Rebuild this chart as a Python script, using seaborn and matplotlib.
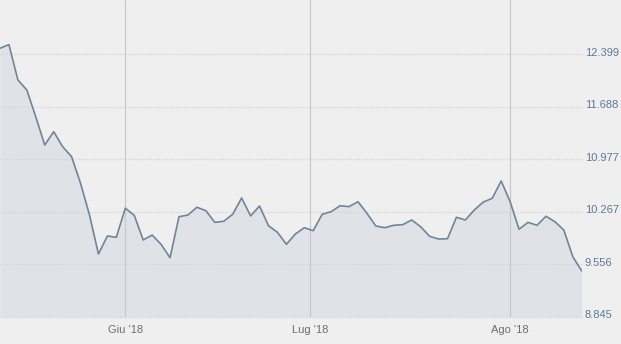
import matplotlib
matplotlib.use("Agg")
import matplotlib.pyplot as plt
import matplotlib.transforms as mtransforms
import seaborn as sns
import pandas as pd
import numpy as np

# ---- data ----
dates = pd.bdate_range("2018-05-14", "2018-08-13")
values = [12.480, 12.530, 12.051, 11.915, 11.550, 11.170, 11.350, 11.147, 11.012, 10.652,
          10.222, 9.694, 9.938, 9.920, 10.315, 10.218, 9.884, 9.951, 9.825, 9.644,
          10.199, 10.222, 10.327, 10.281, 10.123, 10.137, 10.232, 10.453, 10.209, 10.344,
          10.077, 9.988, 9.825, 9.965, 10.050, 10.010, 10.232, 10.267, 10.348, 10.335,
          10.402, 10.245, 10.073, 10.050, 10.083, 10.091, 10.155, 10.064, 9.934, 9.897,
          9.901, 10.191, 10.155, 10.290, 10.398, 10.448, 10.683, 10.402, 10.029, 10.123,
          10.083, 10.205, 10.132, 10.019, 9.658, 9.464]
ytick_values = [8.845, 9.556, 10.267, 10.977, 11.688, 12.399]
ytick_labels = ["8.845", "9.556", "10.267", "10.977", "11.688", "12.399"]
month_starts = ["2018-06-01", "2018-07-01", "2018-08-01"]
month_labels = ["Giu '18", "Lug '18", "Ago '18"]

df = pd.DataFrame({"date": dates[:len(values)], "value": values})
df["idx"] = np.arange(len(df))

# ordinal axis: month ticks placed at the interpolated position of the 1st day
date_num = df["date"].map(pd.Timestamp.toordinal).to_numpy()
xticks = [float(np.interp(pd.Timestamp(d).toordinal(), date_num, df["idx"])) for d in month_starts]

bg = "#efefef"
sns.set_theme(style="white")
plt.rcParams["font.family"] = ["Liberation Sans", "DejaVu Sans"]

fig = plt.figure(figsize=(6.21, 3.44), dpi=100, facecolor=bg)
ax = fig.add_axes([0, 27.3 / 344, 582 / 621, 1 - 27.3 / 344])
ax.set_facecolor(bg)

ax.fill_between(df["idx"], df["value"], 8.845, color="#dfe3e8", zorder=1, linewidth=0)
sns.lineplot(data=df, x="idx", y="value", ax=ax, color="#72849a", linewidth=1.2, zorder=3)

ax.set_xlim(0, 65.03)
ax.set_ylim(8.845, 8.845 + 316.7 / 73.84)

# grid
for v in ytick_values:
    ax.axhline(v, color="#d6d6d6", linewidth=1, linestyle=(0, (1, 1)), zorder=2, clip_on=False)
for x in xticks:
    ax.axvline(x, color="#c8c8c8", linewidth=0.9, zorder=2)

ax.set_xticks(xticks)
ax.set_xticklabels(month_labels, color="#6e6e6e", fontsize=8)
ax.yaxis.tick_right()
ax.set_yticks(ytick_values)
ax.set_yticklabels(ytick_labels, color="#5f7899", fontsize=8)
ax.tick_params(axis="both", length=0)
ax.tick_params(axis="y", pad=2)
ax.tick_params(axis="x", pad=6)
off = mtransforms.ScaledTranslation(0, 2.5 / 100, fig.dpi_scale_trans)
for lab in ax.get_yticklabels():
    lab.set_transform(lab.get_transform() + off)

ax.set_xlabel("")
ax.set_ylabel("")
for s in ax.spines.values():
    s.set_visible(False)

fig.savefig("out.png", dpi=100, facecolor=bg)
